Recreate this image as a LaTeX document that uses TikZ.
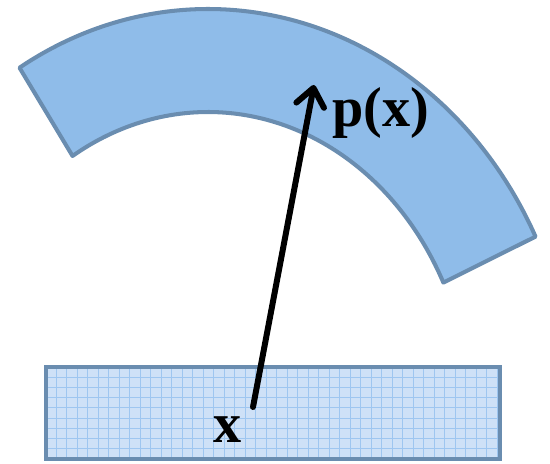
\documentclass[tikz,border=0pt]{standalone}
\usepackage{fontspec}
\setmainfont{Liberation Serif}
\usepackage{xcolor}
\usetikzlibrary{arrows.meta,calc}

\definecolor{bandfill}{RGB}{143,188,233}
\definecolor{edgeblue}{RGB}{106,141,176}
\definecolor{slabfill}{RGB}{206,225,247}
\definecolor{gridblue}{RGB}{158,198,240}

\begin{document}
\begin{tikzpicture}[
  x=0.02cm, y=0.02cm,
  band/.style={draw=edgeblue, fill=bandfill, line width=2.3pt, line join=round},
  slab/.style={draw=edgeblue, fill=slabfill, line width=2.5pt},
  gridln/.style={draw=gridblue, line width=0.5pt},
  lbl/.style={font=\fontsize{32}{36}\selectfont\bfseries, inner sep=0pt},
  arr/.style={line width=3.4pt, line cap=round, -{Straight Barb[length=10pt, width=16pt, line cap=round, line join=round]}}]
\useasboundingbox (0,0) rectangle (550,463);
% ---------------- curved band (top) ----------------
\coordinate (c) at (208,43);
\draw[band] ($(c)+(121:366 and 411)$) arc[start angle=121, end angle=26.5, x radius=366, y radius=411]
  -- ($(c)+(26.5:263 and 308)$) arc[start angle=26.5, end angle=121, x radius=263, y radius=308] -- cycle;
% ---------------- gridded slab (bottom) ----------------
\fill[slabfill] (46,4) rectangle (500,96);
\foreach \gx in {0,...,42} \draw[gridln] (56+10.5*\gx,4) -- (56+10.5*\gx,96);
\foreach \gy in {0,...,8} \draw[gridln] (46,86-10.25*\gy) -- (500,86-10.25*\gy);
\draw[slab, fill=none] (46,4) rectangle (500,96);
% ---------------- labels and mapping ----------------
\node[lbl, anchor=base] (x) at (228,21) {x};
\node[lbl, anchor=base west] (px) at (332,336) {p(x)};
\coordinate (xpt) at (253,56);
\coordinate (ppt) at (314,378);
\draw[arr] (xpt) -- (ppt);
\end{tikzpicture}
\end{document}
